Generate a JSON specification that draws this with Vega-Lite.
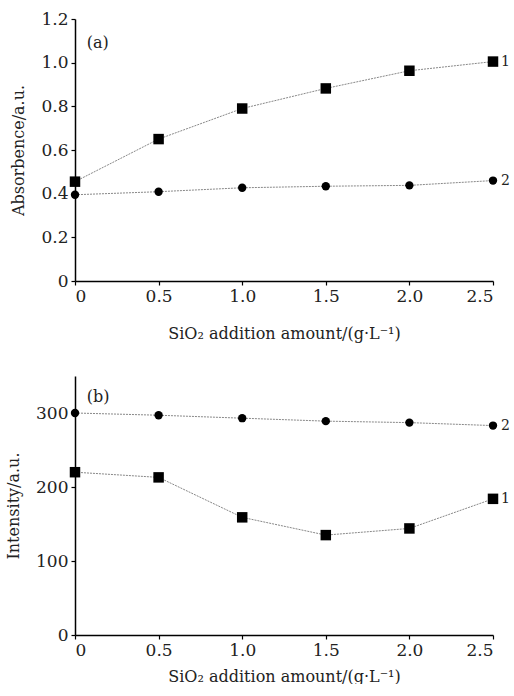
{
  "$schema": "https://vega.github.io/schema/vega-lite/v6.json",
  "background": "white",
  "padding": {"top": 10, "left": 5, "right": 0, "bottom": 0},
  "config": {
    "font": "DejaVu Serif",
    "view": {"stroke": null},
    "text": {"font": "DejaVu Serif"},
    "axis": {
      "domainColor": "black", "domainWidth": 1.5, "tickColor": "black", "tickSize": 4, "tickWidth": 1.2,
      "labelFont": "DejaVu Serif", "labelFontSize": 17, "labelColor": "#222",
      "titleFont": "DejaVu Serif", "titleFontSize": 16, "titleFontWeight": "normal", "titleColor": "#222",
      "grid": false
    }
  },
  "spacing": 35,
  "vconcat": [
    {
      "width": 418, "height": 262,
      "data": {"values": [
        {"x": 0, "y": 0.455, "series": "1"}, {"x": 0.5, "y": 0.65, "series": "1"}, {"x": 1.0, "y": 0.79, "series": "1"},
        {"x": 1.5, "y": 0.882, "series": "1"}, {"x": 2.0, "y": 0.963, "series": "1"}, {"x": 2.5, "y": 1.005, "series": "1"},
        {"x": 0, "y": 0.395, "series": "2"}, {"x": 0.5, "y": 0.409, "series": "2"}, {"x": 1.0, "y": 0.427, "series": "2"},
        {"x": 1.5, "y": 0.434, "series": "2"}, {"x": 2.0, "y": 0.438, "series": "2"}, {"x": 2.5, "y": 0.46, "series": "2"},
        {"x": 0.07, "y": 1.09, "series": "label", "label": "(a)"}
      ]},
      "encoding": {
        "x": {"field": "x", "type": "quantitative", "scale": {"domain": [0, 2.5], "nice": false},
          "axis": {"values": [0, 0.5, 1, 1.5, 2, 2.5], "labelExpr": "datum.value == 0 ? '0' : format(datum.value, '.1f')", "title": "SiO₂ addition amount/(g·L⁻¹)", "titlePadding": 21, "labelPadding": 3}},
        "y": {"field": "y", "type": "quantitative", "scale": {"domain": [0, 1.2], "nice": false},
          "axis": {"values": [0, 0.2, 0.4, 0.6, 0.8, 1.0, 1.2], "labelExpr": "datum.value == 0 ? '0' : format(datum.value, '.1f')", "title": "Absorbence/a.u.", "titlePadding": 14, "labelPadding": 3}}
      },
      "layer": [
        {"transform": [{"filter": "datum.series != 'label'"}], "mark": {"type": "line", "color": "#888", "strokeWidth": 1, "strokeDash": [2, 1]}, "encoding": {"detail": {"field": "series"}}},
        {"transform": [{"filter": "datum.series != 'label'"}], "mark": {"type": "point", "filled": true, "color": "black", "opacity": 1},
          "encoding": {"shape": {"field": "series", "scale": {"domain": ["1", "2"], "range": ["square", "circle"]}, "legend": null},
            "size": {"field": "series", "scale": {"domain": ["1", "2"], "range": [110, 70]}, "legend": null}}},
        {"transform": [{"filter": "datum.x == 2.5 && datum.series != 'label'"}], "mark": {"type": "text", "align": "left", "dx": 8, "fontSize": 14, "color": "#222"},
          "encoding": {"text": {"field": "series"}}},
        {"transform": [{"filter": "datum.series == 'label'"}], "mark": {"type": "text", "align": "left", "fontSize": 16, "color": "#222"},
          "encoding": {"text": {"field": "label"}}}
      ]
    },
    {
      "width": 418, "height": 259,
      "data": {"values": [
        {"x": 0, "y": 220, "series": "1"}, {"x": 0.5, "y": 213, "series": "1"}, {"x": 1.0, "y": 159, "series": "1"},
        {"x": 1.5, "y": 135, "series": "1"}, {"x": 2.0, "y": 144, "series": "1"}, {"x": 2.5, "y": 184, "series": "1"},
        {"x": 0, "y": 300, "series": "2"}, {"x": 0.5, "y": 297, "series": "2"}, {"x": 1.0, "y": 293, "series": "2"},
        {"x": 1.5, "y": 289, "series": "2"}, {"x": 2.0, "y": 287, "series": "2"}, {"x": 2.5, "y": 283, "series": "2"},
        {"x": 0.07, "y": 321, "series": "label", "label": "(b)"}
      ]},
      "encoding": {
        "x": {"field": "x", "type": "quantitative", "scale": {"domain": [0, 2.5], "nice": false},
          "axis": {"values": [0, 0.5, 1, 1.5, 2, 2.5], "labelExpr": "datum.value == 0 ? '0' : format(datum.value, '.1f')", "title": "SiO₂ addition amount/(g·L⁻¹)", "titlePadding": 10, "labelPadding": 3}},
        "y": {"field": "y", "type": "quantitative", "scale": {"domain": [0, 350], "nice": false},
          "axis": {"values": [0, 100, 200, 300], "title": "Intensity/a.u.", "titlePadding": 14, "labelPadding": 3}}
      },
      "layer": [
        {"transform": [{"filter": "datum.series != 'label'"}], "mark": {"type": "line", "color": "#888", "strokeWidth": 1, "strokeDash": [2, 1]}, "encoding": {"detail": {"field": "series"}}},
        {"transform": [{"filter": "datum.series != 'label'"}], "mark": {"type": "point", "filled": true, "color": "black", "opacity": 1},
          "encoding": {"shape": {"field": "series", "scale": {"domain": ["1", "2"], "range": ["square", "circle"]}, "legend": null},
            "size": {"field": "series", "scale": {"domain": ["1", "2"], "range": [110, 70]}, "legend": null}}},
        {"transform": [{"filter": "datum.x == 2.5 && datum.series != 'label'"}], "mark": {"type": "text", "align": "left", "dx": 8, "fontSize": 14, "color": "#222"},
          "encoding": {"text": {"field": "series"}}},
        {"transform": [{"filter": "datum.series == 'label'"}], "mark": {"type": "text", "align": "left", "fontSize": 16, "color": "#222"},
          "encoding": {"text": {"field": "label"}}}
      ]
    }
  ]
}
